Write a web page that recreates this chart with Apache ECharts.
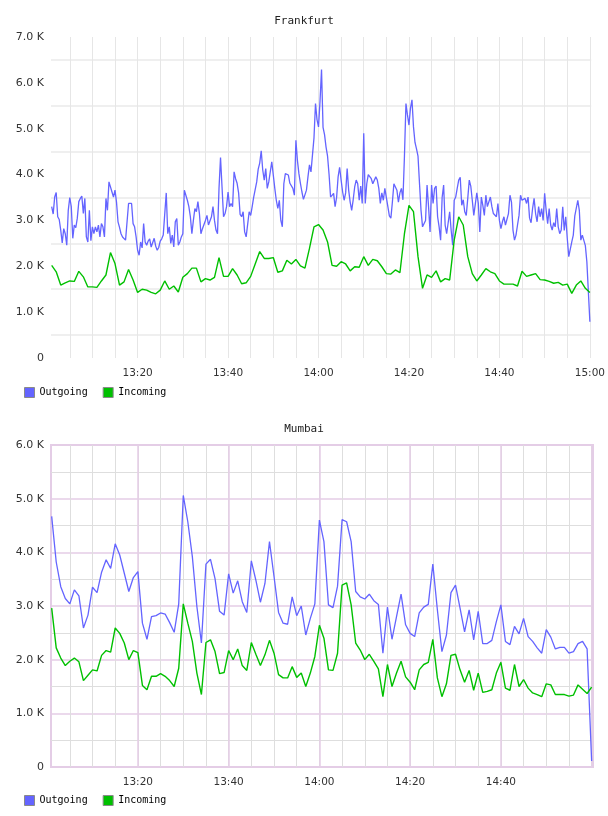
<!DOCTYPE html>
<html>
<head>
<meta charset="UTF-8">
<title>Frankfurt / Mumbai traffic</title>
<script src="https://cdn.jsdelivr.net/npm/echarts@6/dist/echarts.min.js"></script>
<style>
  html, body { margin: 0; padding: 0; background: #fff; }
  #main { width: 608px; height: 816px; }
</style>
</head>
<body>
<div id="main"></div>
<script>
// values in K. Minutes are counted from 13:00.
// Frankfurt outgoing is sampled every 20 s, everything else once a minute.
const frankfurtOutgoing = [
  3.30, 3.14, 3.51, 3.61, 3.08, 3.02, 2.79, 2.51, 2.82, 2.71, 2.46, 3.22, 3.50, 3.30, 2.61,
  2.90, 2.84, 3.05, 3.41, 3.48, 3.53, 3.15, 3.48, 2.64, 2.53, 3.22, 2.56, 2.86, 2.71, 2.86,
  2.75, 2.90, 2.64, 2.93, 2.86, 2.64, 3.48, 3.22, 3.84, 3.81, 3.62, 3.51, 3.66, 3.40, 2.97,
  2.85, 2.71, 2.64, 2.61, 2.57, 2.53, 3.37, 3.41, 3.37, 2.93, 2.86, 2.64, 2.35, 2.24, 2.53,
  2.40, 2.93, 2.53, 2.46, 2.55, 2.60, 2.42, 2.46, 2.61, 2.44, 2.35, 2.41, 2.55, 2.60, 2.68,
  2.71, 3.60, 2.71, 2.86, 2.50, 2.68, 2.42, 2.97, 3.04, 2.46, 2.53, 2.64, 2.71, 3.66, 3.55,
  3.44, 3.30, 3.08, 2.71, 3.00, 3.26, 3.19, 3.41, 3.15, 2.71, 2.82, 2.82, 3.00, 3.11, 2.90,
  2.90, 3.08, 3.30, 3.00, 2.79, 2.71, 3.70, 4.37, 3.73, 3.08, 3.15, 3.30, 3.62, 3.30, 3.37,
  3.30, 4.06, 3.91, 3.81, 3.60, 3.13, 3.08, 3.19, 2.75, 2.64, 2.64, 3.19, 3.11, 3.30, 3.51,
  3.55, 3.84, 4.12, 4.25, 4.52, 4.10, 3.88, 4.13, 3.70, 3.84, 3.84, 4.28, 4.31, 3.70, 3.44,
  3.26, 3.44, 3.00, 2.86, 3.80, 4.02, 4.02, 3.99, 3.81, 3.84, 3.70, 3.55, 4.75, 4.31, 4.02,
  3.81, 3.62, 3.46, 3.44, 3.66, 3.95, 4.21, 4.06, 4.03, 4.80, 5.55, 5.20, 5.04, 5.60, 6.29,
  5.03, 4.87, 4.60, 4.40, 4.00, 3.51, 3.55, 3.59, 3.30, 3.50, 3.95, 4.16, 3.88, 3.62, 3.44,
  3.60, 4.13, 3.66, 3.40, 3.22, 3.45, 3.73, 3.88, 3.80, 3.44, 3.75, 3.37, 4.90, 3.37, 3.80,
  4.00, 4.02, 3.91, 3.80, 3.81, 3.95, 3.88, 3.70, 3.37, 3.60, 3.44, 3.70, 3.73, 3.30, 3.10,
  3.05, 3.40, 3.80, 3.79, 3.66, 3.40, 3.60, 3.70, 3.45, 4.40, 5.55, 5.30, 5.08, 5.45, 5.63,
  5.04, 4.70, 4.56, 4.40, 3.80, 3.22, 2.86, 2.82, 3.00, 3.77, 3.30, 2.75, 3.77, 3.37, 3.70,
  3.75, 3.08, 2.86, 2.57, 3.50, 3.77, 2.90, 2.71, 2.71, 3.19, 2.78, 2.46, 3.44, 3.51, 3.70,
  3.88, 3.94, 3.33, 3.45, 3.19, 3.11, 3.48, 3.88, 3.75, 3.44, 3.11, 3.11, 3.60, 3.37, 2.75,
  3.51, 3.33, 3.11, 3.55, 3.30, 3.33, 3.51, 3.30, 3.15, 3.15, 3.08, 3.37, 3.00, 2.82, 2.97,
  3.08, 2.90, 2.90, 3.15, 3.55, 3.40, 2.79, 2.57, 2.68, 2.90, 3.11, 3.55, 3.44, 3.44, 3.48,
  3.37, 3.51, 3.05, 2.95, 3.26, 3.48, 3.15, 2.97, 3.30, 3.08, 3.26, 3.00, 3.59, 3.22, 2.93,
  3.26, 2.90, 2.79, 2.95, 2.86, 3.26, 2.86, 2.71, 2.79, 3.30, 2.78, 3.08, 2.61, 2.21, 2.17,
  2.53, 2.68, 3.10, 3.11, 3.44, 3.22, 2.57, 2.68, 2.65, 2.45, 2.10, 2.06, 0.79
];
const frankfurtIncoming = [
  2.02, 1.88, 1.59, 1.64, 1.68, 1.67, 1.89, 1.77, 1.55, 1.55, 1.54, 1.68, 1.81, 2.30, 2.06,
  1.59, 1.66, 1.93, 1.70, 1.43, 1.50, 1.48, 1.43, 1.40, 1.48, 1.68, 1.50, 1.57, 1.44, 1.76,
  1.84, 1.96, 1.96, 1.66, 1.73, 1.70, 1.76, 2.19, 1.78, 1.78, 1.95, 1.81, 1.62, 1.64, 1.78,
  2.05, 2.32, 2.17, 2.17, 2.19, 1.87, 1.90, 2.13, 2.05, 2.15, 2.01, 1.96, 2.39, 2.86, 2.91,
  2.79, 2.53, 2.02, 2.00, 2.10, 2.05, 1.90, 1.99, 1.98, 2.21, 2.02, 2.15, 2.12, 1.99, 1.84,
  1.83, 1.92, 1.86, 2.71, 3.33, 3.19, 2.21, 1.52, 1.81, 1.76, 1.90, 1.66, 1.73, 1.70, 2.57,
  3.08, 2.90, 2.21, 1.84, 1.68, 1.81, 1.95, 1.88, 1.84, 1.68, 1.61, 1.61, 1.61, 1.57, 1.89,
  1.78, 1.81, 1.84, 1.71, 1.70, 1.67, 1.63, 1.65, 1.59, 1.61, 1.41, 1.59, 1.68, 1.52, 1.43
];
const mumbaiOutgoing = [
  4.67, 3.82, 3.36, 3.14, 3.04, 3.30, 3.19, 2.59, 2.83, 3.35, 3.25, 3.63, 3.86, 3.70, 4.16,
  3.95, 3.61, 3.27, 3.53, 3.64, 2.68, 2.38, 2.80, 2.82, 2.87, 2.85, 2.69, 2.51, 3.04, 5.06,
  4.57, 3.92, 2.99, 2.31, 3.78, 3.87, 3.51, 2.90, 2.83, 3.60, 3.24, 3.47, 3.08, 2.88, 3.84,
  3.48, 3.07, 3.42, 4.20, 3.55, 2.88, 2.68, 2.66, 3.17, 2.82, 3.00, 2.46, 2.77, 3.04, 4.60,
  4.20, 3.02, 2.97, 3.37, 4.61, 4.57, 4.20, 3.27, 3.17, 3.13, 3.22, 3.10, 3.03, 2.12, 2.98,
  2.38, 2.80, 3.22, 2.65, 2.49, 2.43, 2.87, 2.98, 3.03, 3.78, 2.93, 2.15, 2.46, 3.25, 3.39,
  2.96, 2.52, 2.93, 2.37, 2.90, 2.30, 2.30, 2.36, 2.71, 3.02, 2.34, 2.28, 2.62, 2.48, 2.77,
  2.43, 2.34, 2.22, 2.12, 2.56, 2.42, 2.20, 2.23, 2.23, 2.12, 2.15, 2.30, 2.34, 2.20, 0.11
];
const mumbaiIncoming = [
  2.96, 2.22, 2.03, 1.89, 1.97, 2.03, 1.96, 1.61, 1.71, 1.81, 1.79, 2.08, 2.17, 2.14, 2.59,
  2.49, 2.31, 2.00, 2.17, 2.13, 1.52, 1.44, 1.69, 1.69, 1.74, 1.69, 1.61, 1.50, 1.84, 3.04,
  2.68, 2.34, 1.75, 1.35, 2.32, 2.37, 2.15, 1.74, 1.76, 2.17, 2.00, 2.20, 1.89, 1.80, 2.32,
  2.10, 1.89, 2.09, 2.36, 2.12, 1.72, 1.66, 1.66, 1.87, 1.67, 1.75, 1.50, 1.75, 2.06, 2.64,
  2.40, 1.81, 1.80, 2.12, 3.39, 3.43, 3.02, 2.31, 2.18, 2.00, 2.10, 1.97, 1.83, 1.31, 1.91,
  1.50, 1.75, 1.97, 1.68, 1.58, 1.44, 1.81, 1.91, 1.95, 2.38, 1.66, 1.31, 1.55, 2.08, 2.10,
  1.81, 1.58, 1.80, 1.43, 1.75, 1.39, 1.41, 1.44, 1.75, 1.95, 1.47, 1.43, 1.91, 1.50, 1.63,
  1.47, 1.38, 1.35, 1.31, 1.55, 1.53, 1.35, 1.35, 1.35, 1.32, 1.34, 1.53, 1.45, 1.37, 1.49
];

const seriesNames = ['Outgoing', 'Incoming'];
const frankfurtTimeLabels = ['13:20', '13:40', '14:00', '14:20', '14:40', '15:00'];
const mumbaiTimeLabels = ['13:20', '13:40', '14:00', '14:20', '14:40'];
const firstMinute = 1;          // 13:01
const fineStep = 1 / 3;         // 20 s

const COLOR_OUT = '#6464ff';
const COLOR_IN = '#00c000';
const GRID_GRAY = '#dedede';
const GRID_PURPLE = '#e4cde6';

function clock(v) {
  if (!Number.isInteger(v)) return '';
  const h = 13 + Math.floor(v / 60);
  const m = v % 60;
  return h + ':' + String(m).padStart(2, '0');
}
function kLabel(v) {
  return v === 0 ? '0' : v.toFixed(1) + ' K';
}
function timeAxis(grid, split, labels, lineColor, lineWidth) {
  return {
    gridIndex: grid, type: 'value', position: 'bottom',
    min: 0.85, max: 120.3, splitNumber: split,
    axisLine: { show: false }, axisTick: { show: false },
    axisLabel: {
      show: !!labels, margin: 10,
      fontFamily: 'DejaVu Sans', fontSize: 10.5, color: '#333',
      formatter: v => (labels && labels.includes(clock(v))) ? clock(v) : ''
    },
    splitLine: {
      show: true, showMinLine: false, showMaxLine: false,
      lineStyle: { color: lineColor, width: lineWidth }
    }
  };
}

const titleFont = { fontFamily: 'DejaVu Sans Mono', fontSize: 11, fontWeight: 'normal', color: '#222' };
const tickFont = { fontFamily: 'DejaVu Sans', fontSize: 11, color: '#333' };
const legendBase = {
  left: 24, padding: 0, itemWidth: 10, itemHeight: 10, itemGap: 15, icon: 'rect',
  itemStyle: { borderColor: '#8a8a8a', borderWidth: 1 },
  textStyle: { fontFamily: 'DejaVu Sans Mono', fontSize: 10, color: '#000' },
  data: seriesNames
};

const minuteIdx = mumbaiOutgoing.map((_, i) => firstMinute + i);

const chart = echarts.init(document.getElementById('main'));
chart.setOption({
  animation: false,
  backgroundColor: '#fff',
  title: [
    { text: 'Frankfurt', left: 'center', top: 16, padding: 0, textStyle: titleFont },
    { text: 'Mumbai', left: 'center', top: 424, padding: 0, textStyle: titleFont }
  ],
  legend: [
    Object.assign({ top: 387 }, legendBase),
    Object.assign({ top: 795 }, legendBase)
  ],
  grid: [
    { left: 51, right: 15, top: 37, height: 321 },
    { left: 51, right: 15, top: 445, height: 322, show: true, borderColor: GRID_PURPLE, borderWidth: 2 }
  ],
  xAxis: [
    timeAxis(0, 24, frankfurtTimeLabels, '#e6e6e6', 1),
    timeAxis(1, 24, null, GRID_GRAY, 1),
    timeAxis(1, 6, mumbaiTimeLabels, GRID_PURPLE, 1.5)
  ],
  yAxis: [
    {
      gridIndex: 0, type: 'value', min: 0, max: 7, interval: 1,
      axisLine: { show: false }, axisTick: { show: false },
      axisLabel: Object.assign({ margin: 7, formatter: kLabel }, tickFont),
      splitLine: { show: false },
      minorTick: { show: false, splitNumber: 2 },
      minorSplitLine: { show: true, lineStyle: { color: '#efefef', width: 2 } }
    },
    {
      gridIndex: 1, type: 'value', min: 0, max: 6, interval: 1,
      axisLine: { show: false }, axisTick: { show: false },
      axisLabel: Object.assign({ margin: 7, formatter: kLabel }, tickFont),
      splitLine: { show: true, lineStyle: { color: GRID_PURPLE, width: 1.5 } },
      minorTick: { show: false, splitNumber: 2 },
      minorSplitLine: { show: true, lineStyle: { color: GRID_GRAY, width: 1 } }
    }
  ],
  series: [
    {
      name: 'Outgoing', type: 'line', xAxisIndex: 0, yAxisIndex: 0, symbol: 'none',
      data: frankfurtOutgoing.map((v, i) => [firstMinute + i * fineStep, v]),
      lineStyle: { color: COLOR_OUT, width: 1.3 }, itemStyle: { color: COLOR_OUT }
    },
    {
      name: 'Incoming', type: 'line', xAxisIndex: 0, yAxisIndex: 0, symbol: 'none',
      data: frankfurtIncoming.map((v, i) => [minuteIdx[i], v]),
      lineStyle: { color: COLOR_IN, width: 1.4 }, itemStyle: { color: COLOR_IN }
    },
    {
      name: 'Outgoing', type: 'line', xAxisIndex: 2, yAxisIndex: 1, symbol: 'none',
      data: mumbaiOutgoing.map((v, i) => [minuteIdx[i], v]),
      lineStyle: { color: COLOR_OUT, width: 1.3 }, itemStyle: { color: COLOR_OUT }
    },
    {
      name: 'Incoming', type: 'line', xAxisIndex: 2, yAxisIndex: 1, symbol: 'none',
      data: mumbaiIncoming.map((v, i) => [minuteIdx[i], v]),
      lineStyle: { color: COLOR_IN, width: 1.4 }, itemStyle: { color: COLOR_IN }
    }
  ]
});
</script>
</body>
</html>
